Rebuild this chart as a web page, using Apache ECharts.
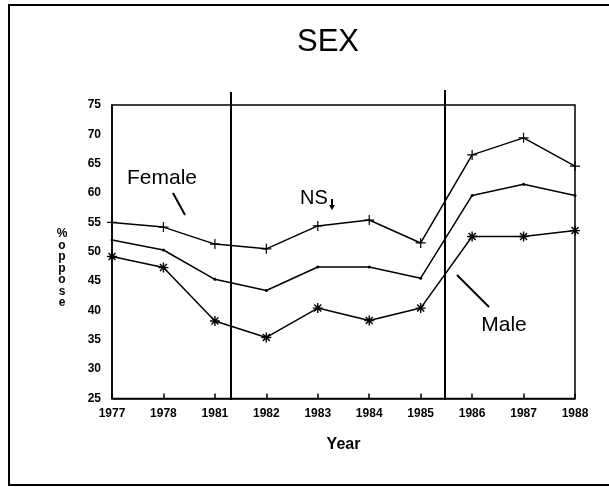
<!DOCTYPE html>
<html>
<head>
<meta charset="utf-8">
<script src="https://cdn.jsdelivr.net/npm/echarts@6/dist/echarts.min.js"></script>
<style>
	html, body { margin: 0; padding: 0; background: #fff; }
	#chart { width: 609px; height: 487px; }
</style>
</head>
<body>
<div id="chart"></div>
<script>
// years on the x axis (not evenly spaced in time, but drawn evenly)
var years = ['1977', '1978', '1981', '1982', '1983', '1984', '1985', '1986', '1987', '1988'];
// % oppose
var female = [55.0, 54.2, 51.3, 50.5, 54.4, 55.4, 51.5, 66.5, 69.4, 64.6];
var overall = [52.0, 50.3, 45.3, 43.4, 47.4, 47.4, 45.5, 59.6, 61.5, 59.6];
var male = [49.2, 47.3, 38.2, 35.4, 40.4, 38.3, 40.4, 52.6, 52.6, 53.6];
var yTicks = [25, 75, 5]; // min, max, step

var FONT = '"Liberation Sans", Arial, sans-serif';
var plusSym = 'path://M4.4,0 H5.6 V4.4 H10 V5.6 H5.6 V10 H4.4 V5.6 H0 V4.4 H4.4 Z';
var starSym = 'path://M4.3,0 H5.7 V10 H4.3 Z M0,4.3 H10 V5.7 H0 Z M1,2 L2,1 L9,8 L8,9 Z M8,1 L9,2 L2,9 L1,8 Z';

var myChart = echarts.init(document.getElementById('chart'));

function lineSeries(name, data, symbol, size) {
	return {
		name: name,
		type: 'line',
		data: data,
		symbol: symbol,
		symbolSize: size,
		showSymbol: true,
		lineStyle: { color: '#000', width: 1.5 },
		itemStyle: { color: '#000' },
		z: 3
	};
}

var option = {
	backgroundColor: '#fff',
	animation: false,
	grid: {
		left: 112, right: 34, top: 105, bottom: 88.5,
		show: true, borderColor: '#000', borderWidth: 1.5
	},
	xAxis: {
		type: 'category',
		data: years,
		boundaryGap: false,
		name: 'Year',
		nameLocation: 'middle',
		nameGap: 38,
		nameTextStyle: { color: '#000', fontFamily: FONT, fontWeight: 'bold', fontSize: 16 },
		axisLine: { lineStyle: { color: '#000', width: 1.5 } },
		axisTick: { inside: true, length: 5, lineStyle: { color: '#000', width: 1.5 } },
		axisLabel: { color: '#000', fontFamily: FONT, fontWeight: 'bold', fontSize: 12, margin: 9, interval: 0 },
		splitLine: { show: false }
	},
	yAxis: {
		type: 'value',
		min: yTicks[0], max: yTicks[1], interval: yTicks[2],
		axisLine: { show: true, lineStyle: { color: '#000', width: 1.5 } },
		axisTick: { show: false },
		axisLabel: { color: '#000', fontFamily: FONT, fontWeight: 'bold', fontSize: 12, margin: 11 },
		splitLine: { show: false }
	},
	series: [
		lineSeries('Female', female, plusSym, 10),
		lineSeries('All', overall, 'circle', 3),
		lineSeries('Male', male, starSym, 10)
	],
	graphic: [
		// outer frame
		{ type: 'rect', shape: { x: 9, y: 5, width: 610, height: 480 },
			style: { fill: 'none', stroke: '#000', lineWidth: 2 } },
		{ type: 'text', x: 328, y: 42,
			style: { text: 'SEX', font: '31px ' + FONT, fill: '#000', align: 'center', verticalAlign: 'middle' } },
		// break lines
		{ type: 'line', shape: { x1: 231, y1: 92, x2: 231, y2: 400 }, style: { stroke: '#000', lineWidth: 2 }, z: 5 },
		{ type: 'line', shape: { x1: 445, y1: 90, x2: 445, y2: 400 }, style: { stroke: '#000', lineWidth: 2 }, z: 5 },
		// labels
		{ type: 'text', x: 162, y: 178,
			style: { text: 'Female', font: '21px ' + FONT, fill: '#000', align: 'center', verticalAlign: 'middle' } },
		{ type: 'line', shape: { x1: 173, y1: 193, x2: 185, y2: 215 }, style: { stroke: '#000', lineWidth: 2 } },
		{ type: 'text', x: 300, y: 198,
			style: { text: 'NS', font: '20px ' + FONT, fill: '#000', verticalAlign: 'middle' } },
		// small down arrow after NS
		{ type: 'line', shape: { x1: 332, y1: 199, x2: 332, y2: 207 }, style: { stroke: '#000', lineWidth: 2 } },
		{ type: 'polygon', shape: { points: [[329, 205], [335, 205], [332, 210]] }, style: { fill: '#000' } },
		{ type: 'text', x: 504, y: 325,
			style: { text: 'Male', font: '21px ' + FONT, fill: '#000', align: 'center', verticalAlign: 'middle' } },
		{ type: 'line', shape: { x1: 457, y1: 275, x2: 489, y2: 307 }, style: { stroke: '#000', lineWidth: 2 } },
		// y axis title, stacked letters
		{ type: 'text', x: 62, y: 228,
			style: { text: '%\no\np\np\no\ns\ne', font: 'bold 12px ' + FONT, fill: '#000', align: 'center', lineHeight: 11.5 } }
	]
};

myChart.setOption(option);
</script>
</body>
</html>
